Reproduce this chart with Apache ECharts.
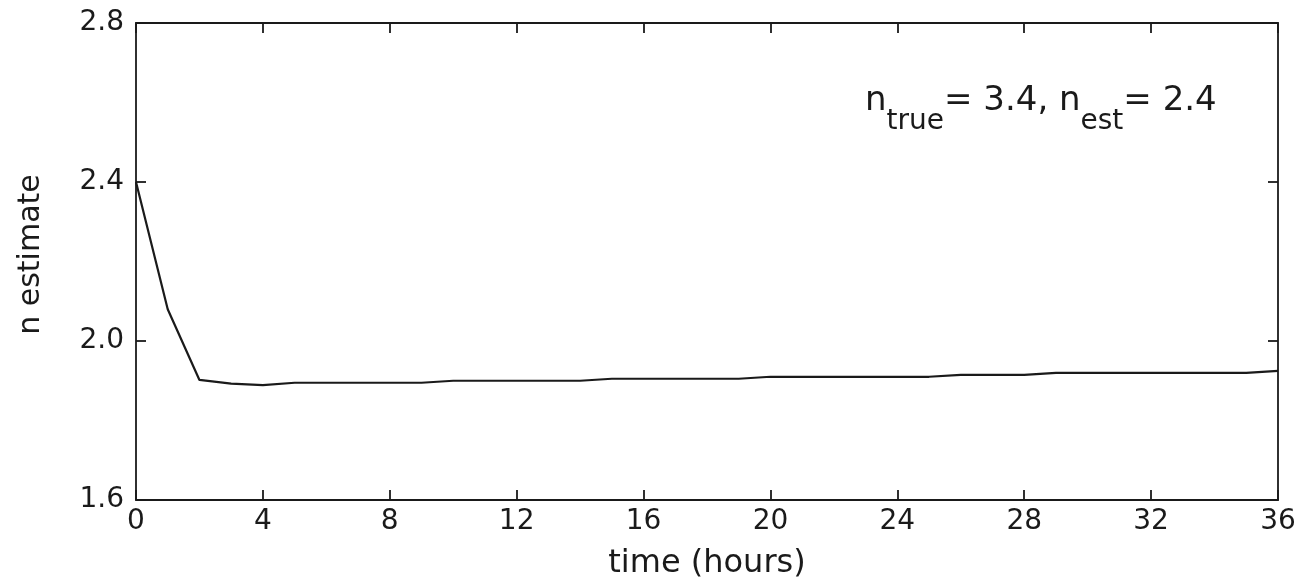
<!DOCTYPE html>
<html>
<head>
<meta charset="utf-8">
<script src="https://cdn.jsdelivr.net/npm/echarts@6/dist/echarts.min.js"></script>
<style>
html,body{margin:0;padding:0;background:#fff;}
#chart{width:1306px;height:585px;}
</style>
</head>
<body>
<div id="chart"></div>
<script>
// time in hours
const hours = [0,1,2,3,4,5,6,7,8,9,10,11,12,13,14,15,16,17,18,19,20,21,22,23,24,25,26,27,28,29,30,31,32,33,34,35,36];
// n estimate values
const nEstimate = [2.40,2.08,1.902,1.893,1.889,1.895,1.895,1.895,1.895,1.895,1.90,1.90,1.90,1.90,1.90,1.905,1.905,1.905,1.905,1.905,1.91,1.91,1.91,1.91,1.91,1.91,1.915,1.915,1.915,1.92,1.92,1.92,1.92,1.92,1.92,1.92,1.925];
const xTicks = {min:0, max:36, interval:4};
const yTicks = {min:1.6, max:2.8, interval:0.4};
const xTitle = 'time (hours)';
const yTitle = 'n estimate';

const FONT = 'DejaVu Sans';
const INK = '#1a1a1a';

const chart = echarts.init(document.getElementById('chart'), null, {renderer:'canvas'});
const lineStyleAxis = {color: INK, width: 1.8};
const option = {
  backgroundColor: '#ffffff',
  animation: false,
  grid: {left: 136, right: 28, top: 23, bottom: 85, containLabel: false},
  xAxis: [{
    type: 'value', min: xTicks.min, max: xTicks.max, interval: xTicks.interval,
    position: 'bottom',
    name: xTitle, nameLocation: 'middle', nameGap: 48,
    nameTextStyle: {fontFamily: FONT, fontSize: 32, color: INK},
    axisLine: {show: true, onZero: false, lineStyle: lineStyleAxis},
    axisTick: {show: true, inside: true, length: 10, lineStyle: lineStyleAxis},
    axisLabel: {show: true, fontFamily: FONT, fontSize: 28, color: INK, margin: 8},
    splitLine: {show: false}
  },{
    type: 'value', min: xTicks.min, max: xTicks.max, interval: xTicks.interval,
    position: 'top',
    axisLine: {show: true, onZero: false, lineStyle: lineStyleAxis},
    axisTick: {show: true, inside: true, length: 10, lineStyle: lineStyleAxis},
    axisLabel: {show: false},
    splitLine: {show: false}
  }],
  yAxis: [{
    type: 'value', min: yTicks.min, max: yTicks.max, interval: yTicks.interval,
    position: 'left',
    name: yTitle, nameLocation: 'middle', nameGap: 90,
    nameTextStyle: {fontFamily: FONT, fontSize: 30, color: INK, padding: [0, 0, 0, 14]},
    axisLine: {show: true, onZero: false, lineStyle: lineStyleAxis},
    axisTick: {show: true, inside: true, length: 10, lineStyle: lineStyleAxis},
    axisLabel: {show: true, fontFamily: FONT, fontSize: 28, color: INK, margin: 12,
      formatter: v => v.toFixed(1)},
    splitLine: {show: false}
  },{
    type: 'value', min: yTicks.min, max: yTicks.max, interval: yTicks.interval,
    position: 'right',
    axisLine: {show: true, onZero: false, lineStyle: lineStyleAxis},
    axisTick: {show: true, inside: true, length: 10, lineStyle: lineStyleAxis},
    axisLabel: {show: false},
    splitLine: {show: false}
  }],
  series: [{
    type: 'line',
    xAxisIndex: 0, yAxisIndex: 0,
    data: hours.map((h, i) => [h, nEstimate[i]]),
    showSymbol: false,
    symbol: 'none',
    lineStyle: {color: INK, width: 2.2},
    z: 3
  }],
  graphic: [{
    type: 'text',
    left: 865, top: 84,
    style: {
      text: '{n|n}{s|true}{n|= 3.4, n}{s|est}{n|= 2.4}',
      rich: {
        n: {fontFamily: FONT, fontSize: 34, lineHeight: 34, verticalAlign: 'top', fill: INK},
        s: {fontFamily: FONT, fontSize: 28, lineHeight: 52, verticalAlign: 'bottom', fill: INK}
      }
    }
  }]
};
chart.setOption(option);
</script>
</body>
</html>
